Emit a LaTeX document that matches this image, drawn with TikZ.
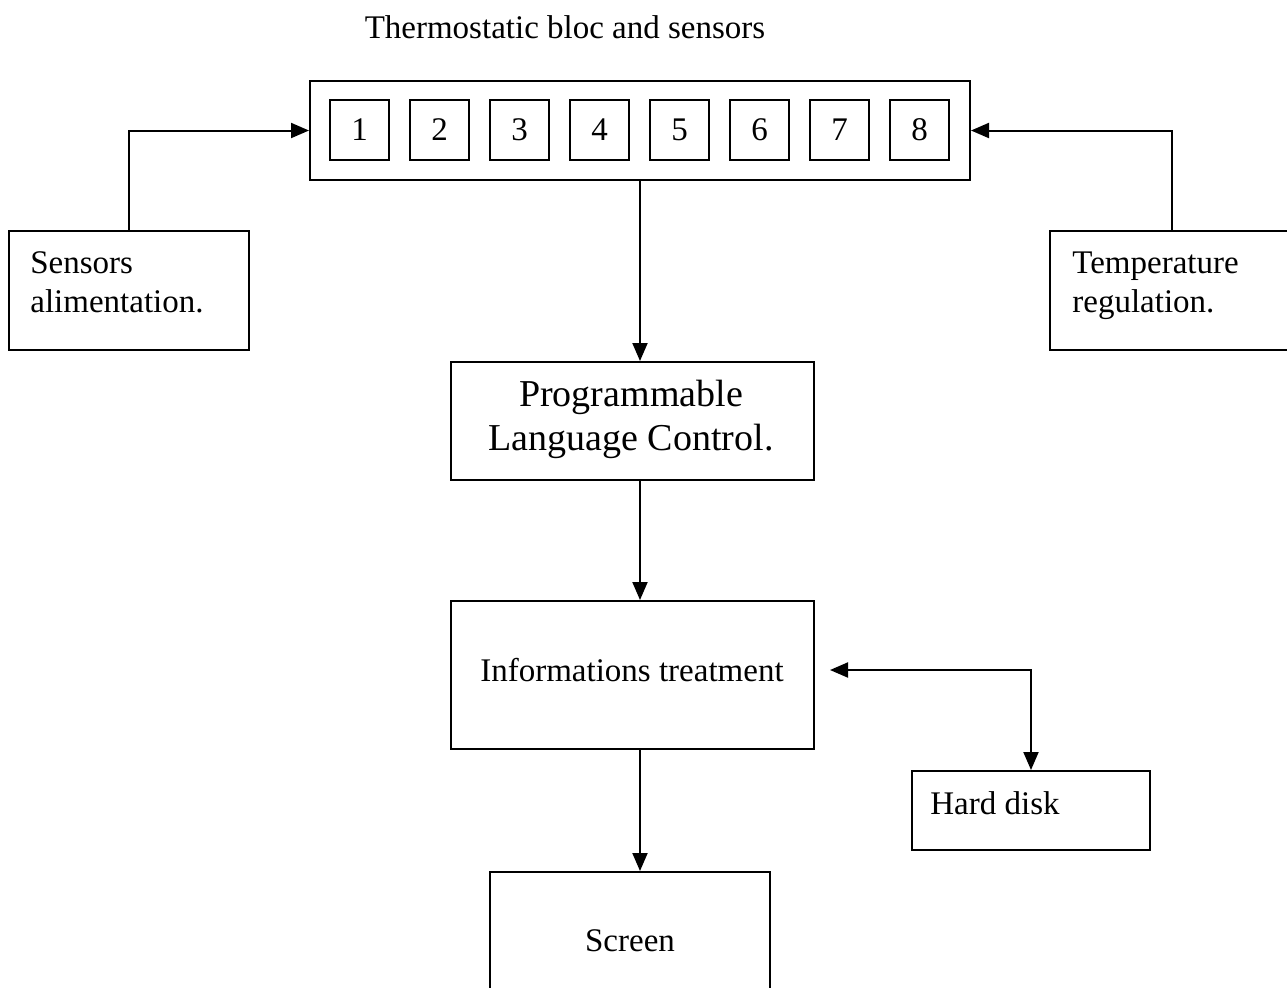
\documentclass[tikz,border=0pt]{standalone}
\usepackage{fontspec}
\setmainfont{Liberation Serif}
\usetikzlibrary{arrows.meta,fit}
\begin{document}
\begin{tikzpicture}[x=0.5pt,y=-0.5pt,
  box/.style={draw, line width=1pt, rectangle, inner sep=0pt},
  txt/.style={inner sep=0pt, font=\fontsize{16.5}{19.5}\selectfont},
  bigtxt/.style={inner sep=0pt, align=center, font=\fontsize{19}{22}\selectfont},
  conn/.style={line width=1pt, -{Triangle[length=9pt,width=7.5pt]}},
  dconn/.style={line width=1pt, {Triangle[length=9pt,width=7.5pt]}-{Triangle[length=9pt,width=7.5pt]}}]
\useasboundingbox (0,0) rectangle (1287,987);
\clip (0,0) rectangle (1287,987);

% title
\node[txt] (title) at (565,27) {Thermostatic bloc and sensors};

% thermostatic bloc
\node[box, fit={(310,81) (970,180)}] (th) {};
\foreach \i in {1,...,8} {
  \pgfmathsetmacro{\xl}{330+(\i-1)*80}
  \pgfmathsetmacro{\xr}{\xl+59}
  \node[box, fit={(\xl,100) (\xr,160)}] (s\i) {};
  \node[txt] (d\i) at (s\i.center) {\i};
}

% side boxes
\node[box, fit={(9,231) (249,350)}] (sens) {};
\node[txt, anchor=base west, align=left] (senstxt) at (30,312) {Sensors\\alimentation.};
\node[box, fit={(1050,231) (1294,350)}] (temp) {};
\node[txt, anchor=base west, align=left] (temptxt) at (1072,312) {Temperature\\regulation.};

% PLC
\node[box, fit={(451,362) (814,480)}] (plc) {};
\node[bigtxt] (plctxt) at (631,419) {Programmable\\Language Control.};

% Informations treatment
\node[box, fit={(451,601) (814,749)}] (info) {};
\node[txt] (infotxt) at (632,670) {Informations treatment};

% Hard disk
\node[box, fit={(912,771) (1150,850)}] (hd) {};
\node[txt, anchor=west] (hdtxt) at (930,803) {Hard disk};

% Screen
\node[box, fit={(490,872) (770,1010)}] (scr) {};
\node[txt] (scrtxt) at (630,941) {Screen};

% connectors
\draw[conn] (sens.north) |- (th.west);
\draw[conn] (temp.north) |- (th.east);
\draw[conn] (th.south) -- (th.south |- plc.north);
\draw[conn] (plc.south -| th.south) -- (info.north -| th.south);
\draw[conn] (info.south -| th.south) -- (scr.north -| th.south);
\coordinate (ha) at (830,670);
\draw[dconn] (ha) -| (hd.north);
\end{tikzpicture}
\end{document}
